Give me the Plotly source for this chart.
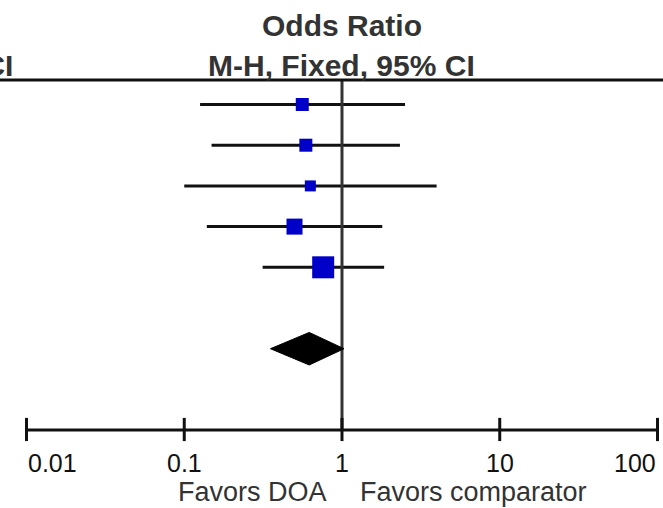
import plotly.graph_objects as go
import math

# ---- data ----
studies_row = [0, 1, 2, 3, 4]
or_est = [0.56, 0.59, 0.63, 0.50, 0.76]
ci_low = [0.126, 0.149, 0.100, 0.139, 0.314]
ci_high = [2.51, 2.33, 3.98, 1.80, 1.85]
weights = [14.1, 14.1, 10.1, 21.4, 40.4]

pooled_row = 6
pooled_or = 0.62
pooled_low = 0.352
pooled_high = 1.03

tick_vals = [0.01, 0.1, 1, 10, 100]
tick_text = ["0.01", "0.1", "1", "10", "100"]

title1 = "Odds Ratio"
title2 = "M-H, Fixed, 95% CI"
left_label = "Favors DOA"
right_label = "Favors comparator"

FONT = "Liberation Sans, Arial, sans-serif"
axis_row = 8

fig = go.Figure()

# CI lines
xs, ys = [], []
for r, lo, hi in zip(studies_row, ci_low, ci_high):
    xs += [lo, hi, None]
    ys += [r, r, None]
fig.add_trace(go.Scatter(x=xs, y=ys, mode="lines",
                         line=dict(color="#111111", width=3), hoverinfo="skip"))

# vertical line of no effect
fig.add_trace(go.Scatter(x=[1, 1], y=[-0.6, axis_row], mode="lines",
                         line=dict(color="#333333", width=3), hoverinfo="skip"))

# study squares
sizes = [3.46 * math.sqrt(w) for w in weights]
fig.add_trace(go.Scatter(x=or_est, y=studies_row, mode="markers",
                         marker=dict(symbol="square", size=sizes, color="#0000C8",
                                     opacity=1, line=dict(width=0))))

# pooled diamond
h = 0.40
fig.add_trace(go.Scatter(
    x=[pooled_low, pooled_or, pooled_high, pooled_or, pooled_low],
    y=[pooled_row, pooled_row - h, pooled_row, pooled_row + h, pooled_row],
    mode="lines", fill="toself", fillcolor="#000000",
    line=dict(color="#000000", width=1), hoverinfo="skip"))

# bottom axis line + ticks
fig.add_trace(go.Scatter(x=[tick_vals[0], tick_vals[-1]], y=[axis_row, axis_row],
                         mode="lines", line=dict(color="#111111", width=3), hoverinfo="skip"))
tx, ty = [], []
for t in tick_vals:
    tx += [t, t, None]
    ty += [axis_row - 0.3, axis_row + 0.27, None]
fig.add_trace(go.Scatter(x=tx, y=ty, mode="lines",
                         line=dict(color="#111111", width=3), hoverinfo="skip"))

annotations = []
for i, (v, t) in enumerate(zip(tick_vals, tick_text)):
    anchor = "left" if i == 0 else ("right" if i == len(tick_vals) - 1 else "center")
    annotations.append(dict(x=math.log10(v), y=8.8, text=t, showarrow=False,
                            xanchor=anchor, yanchor="middle", borderpad=0,
                            font=dict(family=FONT, size=25, color="#111111")))

annotations += [
    dict(x=math.log10(1) - 0.09, y=9.53, text=left_label, showarrow=False,
         xanchor="right", yanchor="middle", borderpad=0,
         font=dict(family=FONT, size=27, color="#333333")),
    dict(x=math.log10(1) + 0.11, y=9.53, text=right_label, showarrow=False,
         xanchor="left", yanchor="middle", borderpad=0,
         font=dict(family=FONT, size=27, color="#333333")),
    dict(x=0.0, y=-1.95, text="<b>" + title1 + "</b>", showarrow=False,
         xanchor="center", yanchor="middle",
         font=dict(family=FONT, size=30, color="#333333")),
    dict(x=0.0, y=-0.96, text="<b>" + title2 + "</b>", showarrow=False,
         xanchor="center", yanchor="middle",
         font=dict(family=FONT, size=30, color="#333333")),
    dict(x=-2.071, y=-0.96, text="<b>95% CI</b>", showarrow=False,
         xanchor="right", yanchor="middle",
         font=dict(family=FONT, size=30, color="#333333")),
]

fig.update_layout(
    width=663, height=508,
    margin=dict(l=0, r=0, t=0, b=0),
    paper_bgcolor="white", plot_bgcolor="white",
    showlegend=False,
    xaxis=dict(type="log", range=[-2.168, 2.035], visible=False, fixedrange=True),
    yaxis=dict(range=[9.914, -2.568], visible=False, fixedrange=True),
    annotations=annotations,
    shapes=[dict(type="line", xref="paper", x0=0, x1=1, yref="y", y0=-0.6, y1=-0.6,
                 line=dict(color="#111111", width=3))],
)

fig.write_html("out.html")
